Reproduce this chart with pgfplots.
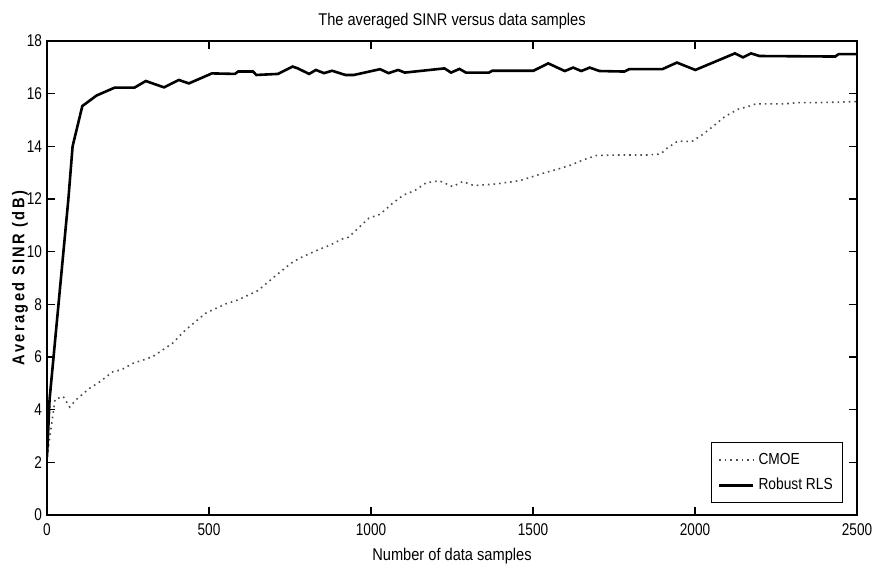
\documentclass[border=0pt]{standalone}
\usepackage{fontspec}
\setmainfont{Liberation Sans}[FakeStretch=0.86]
\newfontfamily\tickfont{Liberation Sans}[FakeStretch=0.8]
\usepackage{pgfplots}
\pgfplotsset{compat=1.18}

\pgfplotstableread{
x y
0 2.2
25 4.4
50 4.5
70 4.1
92 4.4
130 4.8
163 5.06
203 5.44
229 5.51
265 5.76
300 5.9
326 6.01
387 6.52
428 7.03
489 7.66
550 8.01
590 8.17
651 8.52
702 9.05
753 9.56
779 9.75
835 10.06
870 10.23
911 10.48
931 10.55
962 10.91
993 11.27
1028 11.42
1064 11.81
1100 12.15
1135 12.32
1171 12.62
1211 12.69
1252 12.47
1283 12.66
1318 12.51
1385 12.57
1460 12.7
1532 12.98
1578 13.14
1617 13.29
1654 13.48
1695 13.65
1761 13.67
1812 13.67
1853 13.67
1894 13.71
1914 13.93
1947 14.20
1990 14.18
2026 14.47
2057 14.77
2092 15.13
2133 15.41
2169 15.53
2187 15.61
2270 15.61
2321 15.66
2382 15.66
2500 15.70
}\cmoe

\pgfplotstableread{
x y
0 2.2
8 4.4
66 12.0
79 14.0
109 15.53
153 15.93
209 16.23
270 16.23
305 16.48
361 16.24
407 16.52
438 16.39
509 16.77
580 16.75
590 16.84
636 16.84
646 16.71
713 16.75
758 17.03
774 16.96
809 16.75
830 16.90
855 16.78
880 16.87
921 16.71
947 16.71
1028 16.93
1054 16.78
1084 16.90
1104 16.80
1227 16.96
1247 16.80
1273 16.94
1293 16.80
1364 16.80
1374 16.87
1501 16.87
1547 17.15
1598 16.86
1624 16.99
1649 16.86
1675 16.99
1705 16.86
1782 16.84
1797 16.93
1899 16.93
1944 17.18
2001 16.90
2123 17.53
2148 17.38
2173 17.53
2199 17.43
2433 17.41
2443 17.50
2500 17.50
}\rls

\begin{document}
\begin{tikzpicture}
\begin{axis}[
  scale only axis,
  width=405pt, height=237pt,
  xmin=0, xmax=2500, ymin=0, ymax=18,
  xtick={0,500,...,2500},
  ytick={0,2,...,18},
  tick align=inside,
  major tick length=4pt,
  axis line style={line width=0.8pt},
  every tick/.style={black, line width=0.6pt},
  tick label style={font=\tickfont\fontsize{8.5}{10}\selectfont},
  /pgf/number format/assume math mode=true,
  /pgf/number format/set thousands separator={},
  xticklabel style={yshift=-1pt},
  yticklabel style={xshift=1pt},
  title={The averaged SINR versus data samples},
  title style={font=\fontsize{8.5}{10}\selectfont, yshift=-3.5pt},
  xlabel={Number of data samples},
  xlabel style={font=\fontsize{8.5}{10}\selectfont, yshift=1pt},
  ylabel={\addfontfeature{LetterSpace=14}Averaged SINR (dB)},
  ylabel style={font=\fontsize{8.5}{10}\selectfont\bfseries, yshift=-7.5pt},
  legend cell align=left,
  legend style={at={(0.983,0.025)}, anchor=south east,
    font=\fontsize{8}{10}\selectfont, draw=black, line width=0.5pt,
    row sep=1.5pt, inner xsep=3pt, inner ysep=3pt},
]
\addplot[black!70, dash pattern=on 0.8pt off 2pt, line width=0.8pt] table[x=x,y=y] {\cmoe};
\addlegendentry{CMOE}
\addplot[black, line width=1.3pt] table[x=x,y=y] {\rls};
\addlegendentry{Robust RLS}
\end{axis}
\pgfresetboundingbox
\path (current axis.south west) ++(-23.5pt,-27pt) coordinate (bl);
\path (current axis.north east) ++(9pt,20.5pt) coordinate (tr);
\useasboundingbox (bl) rectangle (tr);
\end{tikzpicture}
\end{document}
